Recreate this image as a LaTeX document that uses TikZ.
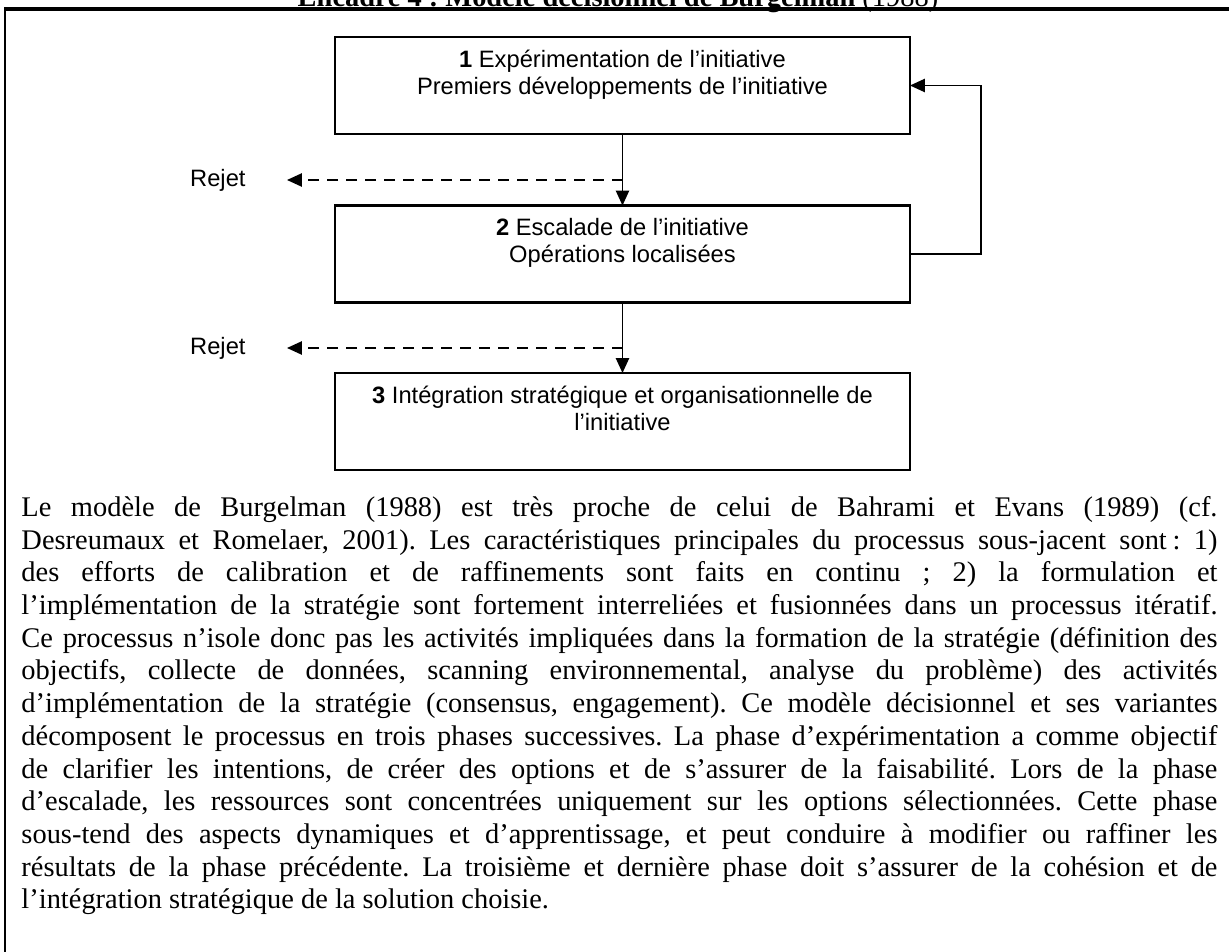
\documentclass[tikz,border=0pt]{standalone}
\usepackage{fontspec}
\setmainfont{Liberation Serif}[Ligatures=NoCommon]
\newfontfamily\arialf{Liberation Sans}[Ligatures=NoCommon]
\usetikzlibrary{arrows.meta}
\newdimen\pxu \pxu=0.422pt
\newcommand\boxtext[1]{\parbox[c][97\pxu][t]{575\pxu}{\centering\arialf\fontsize{10}{11.5}\selectfont\rule{0pt}{30\pxu}#1}}
\newcommand\jl[1]{\makebox[\linewidth][s]{#1}\par}
\frenchspacing
\begin{document}
\begin{tikzpicture}[x=0.422pt,y=-0.422pt,
  stepbox/.style={draw,line width=0.9pt,inner sep=0pt,outer sep=0pt},
  lbl/.style={font=\arialf\fontsize{10}{11.5}\selectfont,inner sep=0pt,anchor=east},
  flow/.style={line width=0.7pt,-{Triangle[length=6.3pt,width=5.6pt]}},
  rej/.style={flow,dash pattern=on 4.6pt off 3.4pt}]
\useasboundingbox (0,0) rectangle (1229,952);
% frame
\draw[line width=1.45pt] (4,9) -- (1229,9);
\draw[line width=1pt] (5,9) -- (5,952);
% title (cut by the page edge)
\node[anchor=base,inner sep=0pt,font=\fontsize{12}{13.8}\selectfont] (title) at (618,6)
  {\textbf{Encadré 4 : Modèle décisionnel de Burgelman} (1988)};
% boxes
\node[stepbox] (b1) at (622.5,85.5) {\boxtext{\textbf{1} Expérimentation de l’initiative\\Premiers développements de l’initiative}};
\node[stepbox] (b2) at (622.5,254) {\boxtext{\textbf{2} Escalade de l’initiative\\Opérations localisées}};
\node[stepbox] (b3) at (622.5,421.5) {\boxtext{\textbf{3} Intégration stratégique et organisationnelle de\\l’initiative}};
% main flow
\draw[flow] (b1.south) -- (b2.north);
\draw[flow] (b2.south) -- (b3.north);
% feedback loop
\coordinate (fb) at (981,170);
\draw[flow] (b2.east) -| (fb) |- (b1.east);
% rejections
\node[lbl] (rej1) at (246,180) {Rejet};
\node[lbl] (rej2) at (246,348) {Rejet};
\coordinate (t1) at (287,180);
\coordinate (t2) at (287,348);
\coordinate (j1) at (b1.south |- t1);
\coordinate (j2) at (b2.south |- t2);
\draw[rej] (j1) -- (t1);
\draw[rej] (j2) -- (t2);
% paragraph
\node[anchor=north west,inner sep=0pt] (para) at (21,490) {\parbox[t]{1196\pxu}{\fontsize{12}{13.8}\selectfont
\jl{\rule{0pt}{26\pxu}Le modèle de Burgelman (1988) est très proche de celui de Bahrami et Evans (1989) (cf.}
\jl{Desreumaux et Romelaer, 2001). Les caractéristiques principales du processus sous-jacent sont\hspace{0.2em}: 1)}
\jl{des efforts de calibration et de raffinements sont faits en continu ; 2) la formulation et}
\jl{l’implémentation de la stratégie sont fortement interreliées et fusionnées dans un processus itératif.}
\jl{Ce processus n’isole donc pas les activités impliquées dans la formation de la stratégie (définition des}
\jl{objectifs, collecte de données, scanning environnemental, analyse du problème) des activités}
\jl{d’implémentation de la stratégie (consensus, engagement). Ce modèle décisionnel et ses variantes}
\jl{décomposent le processus en trois phases successives. La phase d’expérimentation a comme objectif}
\jl{de clarifier les intentions, de créer des options et de s’assurer de la faisabilité. Lors de la phase}
\jl{d’escalade, les ressources sont concentrées uniquement sur les options sélectionnées. Cette phase}
\jl{sous-tend des aspects dynamiques et d’apprentissage, et peut conduire à modifier ou raffiner les}
\jl{résultats de la phase précédente. La troisième et dernière phase doit s’assurer de la cohésion et de}
l’intégration stratégique de la solution choisie.}};
\end{tikzpicture}
\end{document}
